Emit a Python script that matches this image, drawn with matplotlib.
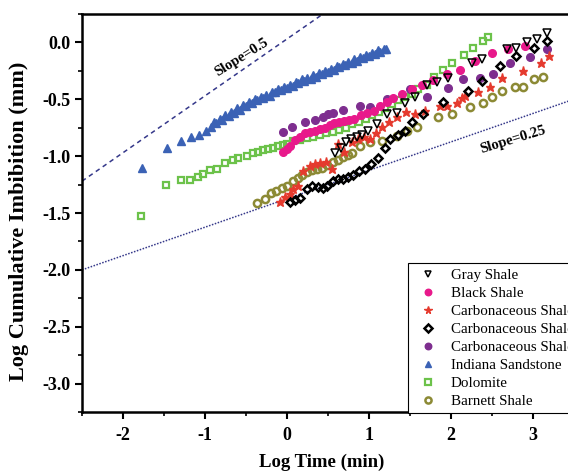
import numpy as np
import matplotlib
matplotlib.use('Agg')
import matplotlib.pyplot as plt

# ---------------- data ----------------
gray_x = [0.59, 0.66, 0.72, 0.78, 0.85, 0.92, 0.99, 1.10, 1.22, 1.34, 1.44, 1.56, 1.71, 1.83,
          1.96, 2.26, 2.38, 2.68, 2.80, 2.93, 3.05, 3.17]
gray_y = [-0.97, -0.93, -0.88, -0.85, -0.83, -0.81, -0.78, -0.72, -0.63, -0.62, -0.53, -0.48, -0.37, -0.35,
          -0.31, -0.18, -0.15, -0.06, -0.05, 0.00, 0.03, 0.08]

black_x = [-0.05, 0.00, 0.04, 0.10, 0.16, 0.22, 0.28, 0.34, 0.40, 0.46, 0.52, 0.58, 0.64, 0.70, 0.76, 0.82,
           0.90, 0.98, 1.06, 1.14, 1.22, 1.30, 1.40, 1.52, 1.65, 1.78, 1.95, 2.11, 2.30, 2.50, 2.70, 2.90]
black_y = [-0.96, -0.94, -0.91, -0.86, -0.83, -0.80, -0.79, -0.78, -0.76, -0.75, -0.73, -0.71, -0.70, -0.69,
           -0.68, -0.67, -0.64, -0.62, -0.60, -0.56, -0.52, -0.49, -0.45, -0.41, -0.37, -0.33, -0.28, -0.24,
           -0.16, -0.09, -0.06, -0.03]

carb1_x = [-0.09, -0.02, 0.04, 0.08, 0.13, 0.20, 0.28, 0.34, 0.40, 0.48, 0.55, 0.62, 0.70, 0.79, 0.87, 0.94,
           1.01, 1.09, 1.16, 1.25, 1.34, 1.45, 1.56, 1.68, 1.87, 1.95, 2.07, 2.13, 2.17, 2.33, 2.48, 2.63,
           2.88, 3.10, 3.20]
carb1_y = [-1.40, -1.36, -1.33, -1.29, -1.26, -1.13, -1.09, -1.07, -1.06, -1.05, -1.11, -0.89, -0.96, -0.88,
           -0.85, -0.83, -0.85, -0.80, -0.74, -0.70, -0.66, -0.61, -0.63, -0.60, -0.56, -0.56, -0.53, -0.49,
           -0.47, -0.44, -0.39, -0.31, -0.25, -0.18, -0.12]

carb2_x = [0.04, 0.10, 0.16, 0.24, 0.30, 0.38, 0.44, 0.49, 0.56, 0.62, 0.68, 0.75, 0.81, 0.88, 0.95, 1.03,
           1.11, 1.20, 1.26, 1.35, 1.44, 1.52, 1.66, 1.90, 2.21, 2.38, 2.60, 2.80, 3.02, 3.17]
carb2_y = [-1.40, -1.39, -1.37, -1.29, -1.26, -1.27, -1.28, -1.26, -1.22, -1.20, -1.20, -1.18, -1.17, -1.13,
           -1.11, -1.07, -1.02, -0.93, -0.85, -0.81, -0.78, -0.70, -0.63, -0.52, -0.43, -0.34, -0.21, -0.12,
           -0.05, 0.01]

carb3_x = [-0.05, 0.06, 0.22, 0.34, 0.44, 0.50, 0.56, 0.68, 0.89, 1.01, 1.22, 1.50, 1.71, 1.96, 2.15, 2.35,
           2.51, 2.72, 2.96, 3.17]
carb3_y = [-0.79, -0.74, -0.70, -0.68, -0.66, -0.63, -0.62, -0.59, -0.56, -0.57, -0.50, -0.41, -0.48, -0.40,
           -0.32, -0.31, -0.28, -0.18, -0.13, -0.06]

indiana_x = [-1.77, -1.46, -1.29, -1.17, -1.07, -0.99,
             -0.93, -0.89, -0.86, -0.82, -0.79, -0.75, -0.71, -0.68, -0.64, -0.61, -0.57, -0.54, -0.50,
             -0.46, -0.43, -0.39, -0.36, -0.32, -0.29, -0.25, -0.21, -0.18, -0.14, -0.11, -0.07, -0.04,
             0.00, 0.04, 0.07, 0.11, 0.14, 0.18, 0.21, 0.25, 0.29, 0.32, 0.36, 0.39, 0.43, 0.46, 0.50,
             0.54, 0.57, 0.61, 0.64, 0.68, 0.71, 0.75, 0.79, 0.82, 0.86, 0.89, 0.93, 0.96, 1.00, 1.04,
             1.07, 1.11, 1.14, 1.18, 1.21]
indiana_y = [-1.10, -0.93, -0.87, -0.83, -0.81, -0.78,
             -0.74, -0.70, -0.71, -0.67, -0.68, -0.64, -0.65, -0.61, -0.62, -0.58, -0.59, -0.55, -0.56,
             -0.52, -0.53, -0.50, -0.51, -0.48, -0.49, -0.46, -0.47, -0.44, -0.44, -0.41, -0.42, -0.39,
             -0.40, -0.37, -0.38, -0.35, -0.36, -0.32, -0.34, -0.31, -0.32, -0.29, -0.30, -0.27, -0.28,
             -0.25, -0.26, -0.23, -0.24, -0.21, -0.22, -0.19, -0.20, -0.17, -0.18, -0.15, -0.16, -0.13,
             -0.14, -0.11, -0.12, -0.09, -0.10, -0.07, -0.08, -0.06, -0.06]

dolomite_x = [-1.78, -1.48, -1.29, -1.18, -1.09, -1.02, -0.94, -0.85, -0.76, -0.66, -0.60, -0.49, -0.41,
              -0.35, -0.29, -0.23, -0.17, -0.11, -0.05, 0.00, 0.08, 0.16, 0.24, 0.32, 0.40, 0.48, 0.56,
              0.64, 0.72, 0.80, 0.88, 0.96, 1.04, 1.12, 1.20, 1.28, 1.36, 1.44, 1.52, 1.60, 1.71, 1.79,
              1.90, 2.02, 2.16, 2.27, 2.39, 2.45]
dolomite_y = [-1.53, -1.25, -1.21, -1.21, -1.18, -1.16, -1.12, -1.11, -1.06, -1.03, -1.02, -1.00, -0.97,
              -0.96, -0.95, -0.94, -0.93, -0.91, -0.90, -0.89, -0.87, -0.86, -0.84, -0.83, -0.81, -0.80,
              -0.79, -0.77, -0.75, -0.72, -0.70, -0.67, -0.64, -0.61, -0.58, -0.54, -0.51, -0.48, -0.45,
              -0.41, -0.37, -0.30, -0.24, -0.18, -0.11, -0.05, 0.01, 0.05]

barnett_x = [-0.36, -0.27, -0.20, -0.13, -0.06, 0.00, 0.07, 0.13, 0.19, 0.25, 0.31, 0.37, 0.43, 0.49, 0.56,
             0.62, 0.68, 0.74, 0.79, 0.89, 1.01, 1.16, 1.34, 1.46, 1.59, 1.84, 2.02, 2.23, 2.39, 2.50,
             2.63, 2.78, 2.88, 3.02, 3.12]
barnett_y = [-1.41, -1.38, -1.32, -1.31, -1.28, -1.26, -1.22, -1.19, -1.17, -1.14, -1.12, -1.11, -1.10,
             -1.08, -1.05, -1.03, -1.01, -0.99, -0.97, -0.91, -0.88, -0.87, -0.82, -0.78, -0.74, -0.66,
             -0.63, -0.57, -0.53, -0.48, -0.43, -0.39, -0.39, -0.32, -0.30]

# reference slope lines: y = slope * x + intercept
slopes = [0.5, 0.25]
intercepts = [0.03, -1.375]
slope_labels = ['Slope=0.5', 'Slope=0.25']

plt.rcParams['font.family'] = ['Liberation Serif', 'DejaVu Serif']

fig = plt.figure(figsize=(5.68, 4.74), dpi=100)
ax = fig.add_axes([82 / 568, 1 - 412 / 474, 500 / 568, 398 / 474])

# slope lines
line_x = np.array([-2.5, 3.6])
ax.plot(line_x, slopes[0] * line_x + intercepts[0], color='#35388a', lw=1.1,
        linestyle=(0, (3, 2.5)), zorder=1)
ax.plot(line_x, slopes[1] * line_x + intercepts[1], color='#35388a', lw=1.1,
        linestyle=(0, (1, 1)), zorder=1)
ax.text(-0.55, -0.13, slope_labels[0], rotation=32, fontsize=10.5, fontweight='bold',
        ha='center', va='center')
ax.text(2.76, -0.86, slope_labels[1], rotation=17, fontsize=10.5, fontweight='bold',
        ha='center', va='center')

ax.plot(indiana_x, indiana_y, '^', color='#3b62b5', ms=5.8, mec='#3b62b5', ls='none',
        label='Indiana Sandstone', zorder=3)
ax.plot(dolomite_x, dolomite_y, 's', mfc='none', mec='#6cc24a', mew=1.6, ms=4.6, ls='none',
        label='Dolomite', zorder=3)
ax.plot(carb3_x, carb3_y, 'o', color='#7e2e8f', ms=5.5, ls='none',
        label='Carbonaceous Shale', zorder=3)
ax.plot(black_x, black_y, 'o', color='#e8198b', ms=5.5, ls='none',
        label='Black Shale', zorder=3)
ax.plot(barnett_x, barnett_y, 'o', mfc='none', mec='#8c8a35', mew=1.8, ms=5.2, ls='none',
        label='Barnett Shale', zorder=3)
ax.plot(carb1_x, carb1_y, '*', color='#e53a2e', ms=6.5, ls='none',
        label='Carbonaceous Shale', zorder=4)
ax.plot(carb2_x, carb2_y, 'D', mfc='none', mec='black', mew=1.8, ms=4.3, ls='none',
        label='Carbonaceous Shale', zorder=4)
ax.plot(gray_x, gray_y, 'v', mfc='none', mec='black', mew=1.1, ms=5.5, ls='none',
        label='Gray Shale', zorder=4)

ax.set_xlim(-2.5, 3.6)
ax.set_ylim(-3.25, 0.25)
ax.set_xticks([-2, -1, 0, 1, 2, 3])
ax.set_xticks(np.arange(-2.5, 3.6, 0.5), minor=True)
ax.set_yticks([-3.0, -2.5, -2.0, -1.5, -1.0, -0.5, 0.0])
ax.set_yticks(np.arange(-3.25, 0.26, 0.25), minor=True)
ax.set_yticklabels(['-3.0', '-2.5', '-2.0', '-1.5', '-1.0', '-0.5', '0.0'])
ax.set_xticklabels(['-2', '-1', '0', '1', '2', '3'])
ax.tick_params(which='major', direction='out', length=5, width=1.5, labelsize=13)
ax.tick_params(axis='x', which='major', pad=6)
ax.tick_params(axis='y', which='major', pad=3)
ax.tick_params(which='minor', direction='out', length=3, width=1.2)
for lbl in ax.get_xticklabels() + ax.get_yticklabels():
    lbl.set_fontweight('bold')
for sp in ax.spines.values():
    sp.set_linewidth(1.8)

ax.set_xlabel('Log Time (min)', fontsize=13.5, fontweight='bold')
ax.xaxis.set_label_coords(0.48, -0.105)
ax.set_ylabel('Log Cumulative Imbibition (mm)', fontsize=16, fontweight='bold')
ax.yaxis.set_label_coords(-0.106, 0.48)

# legend in the order of the reference
handles, labels = ax.get_legend_handles_labels()
order = [7, 3, 5, 6, 2, 0, 1, 4]
leg = ax.legend([handles[i] for i in order], [labels[i] for i in order],
                loc='lower left', bbox_to_anchor=(408 / 568, 1 - 413 / 474),
                bbox_transform=fig.transFigure, fontsize=10.8, frameon=True, fancybox=False,
                edgecolor='black', framealpha=1, borderaxespad=0, labelspacing=0.3,
                handletextpad=0.5, handlelength=2.0, borderpad=0.35, markerscale=0.85)
leg.get_frame().set_linewidth(0.8)

plt.savefig('out.png', dpi=100)
